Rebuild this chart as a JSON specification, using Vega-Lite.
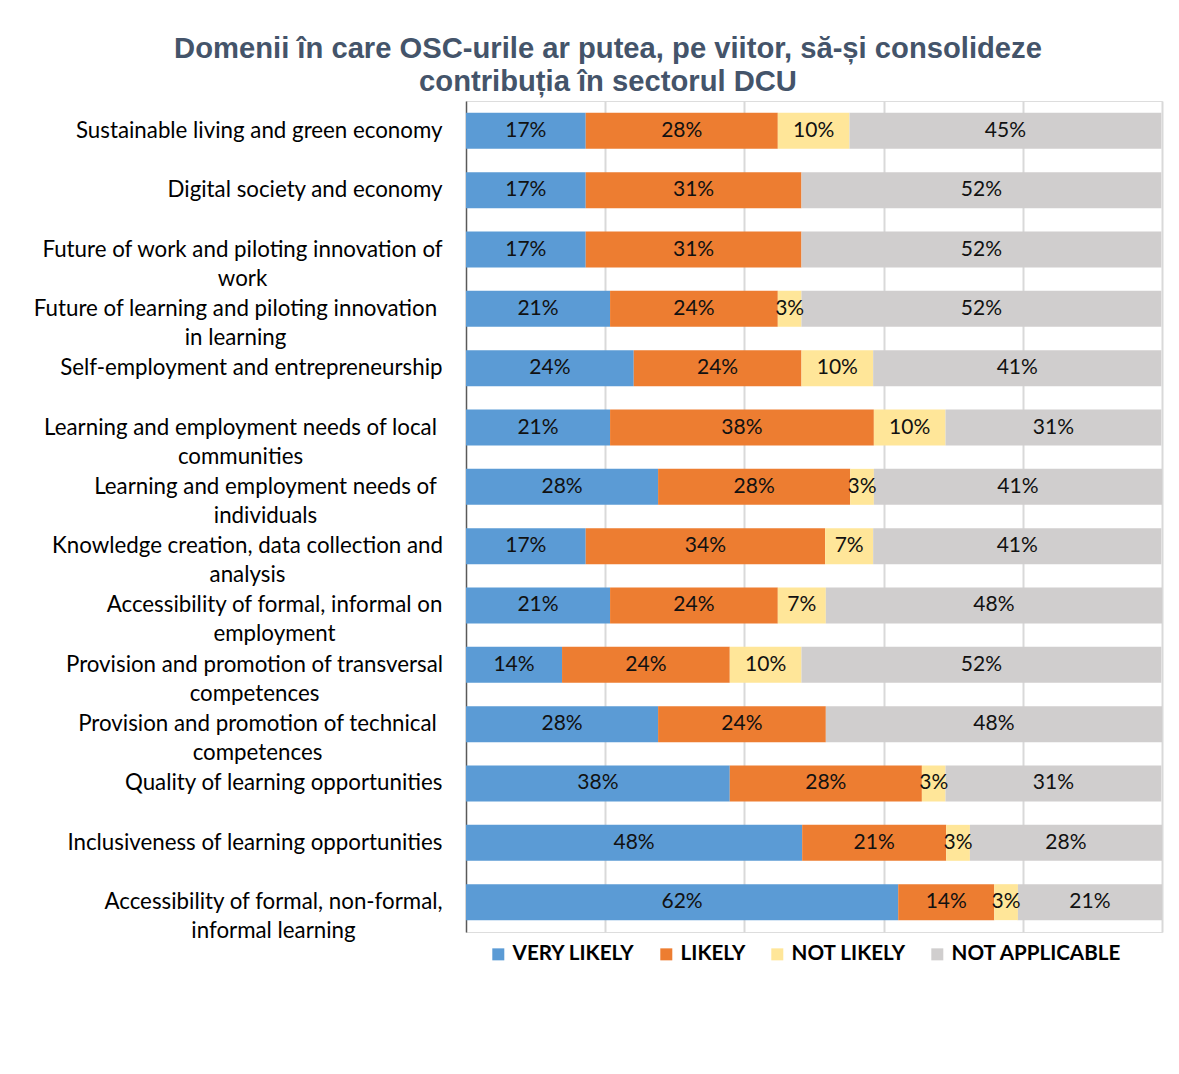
{
  "$schema": "https://vega.github.io/schema/vega-lite/v6.json",
  "autosize": "none",
  "width": 696,
  "height": 831,
  "padding": {"left": 466, "top": 101, "right": 17, "bottom": 142},
  "background": "white",
  "title": {
    "text": ["Domenii în care OSC-urile ar putea, pe viitor, să-și consolideze", "contribuția în sectorul DCU"],
    "font": "Liberation Sans",
    "fontSize": 29.2,
    "fontWeight": "bold",
    "color": "#44546A",
    "lineHeight": 33,
    "anchor": "middle",
    "dx": -206,
    "offset": 4
  },
  "data": {
    "values": [
      {"category": "Sustainable living and green economy", "series": "VERY LIKELY", "k": 1, "value": 0.172},
      {"category": "Sustainable living and green economy", "series": "LIKELY", "k": 2, "value": 0.276},
      {"category": "Sustainable living and green economy", "series": "NOT LIKELY", "k": 3, "value": 0.103},
      {"category": "Sustainable living and green economy", "series": "NOT APPLICABLE", "k": 4, "value": 0.448},
      {"category": "Digital society and economy", "series": "VERY LIKELY", "k": 1, "value": 0.172},
      {"category": "Digital society and economy", "series": "LIKELY", "k": 2, "value": 0.31},
      {"category": "Digital society and economy", "series": "NOT APPLICABLE", "k": 4, "value": 0.517},
      {"category": "Future of work and piloting innovation of work", "series": "VERY LIKELY", "k": 1, "value": 0.172},
      {"category": "Future of work and piloting innovation of work", "series": "LIKELY", "k": 2, "value": 0.31},
      {"category": "Future of work and piloting innovation of work", "series": "NOT APPLICABLE", "k": 4, "value": 0.517},
      {"category": "Future of learning and piloting innovation in learning", "series": "VERY LIKELY", "k": 1, "value": 0.207},
      {"category": "Future of learning and piloting innovation in learning", "series": "LIKELY", "k": 2, "value": 0.241},
      {"category": "Future of learning and piloting innovation in learning", "series": "NOT LIKELY", "k": 3, "value": 0.034},
      {"category": "Future of learning and piloting innovation in learning", "series": "NOT APPLICABLE", "k": 4, "value": 0.517},
      {"category": "Self-employment and entrepreneurship", "series": "VERY LIKELY", "k": 1, "value": 0.241},
      {"category": "Self-employment and entrepreneurship", "series": "LIKELY", "k": 2, "value": 0.241},
      {"category": "Self-employment and entrepreneurship", "series": "NOT LIKELY", "k": 3, "value": 0.103},
      {"category": "Self-employment and entrepreneurship", "series": "NOT APPLICABLE", "k": 4, "value": 0.414},
      {"category": "Learning and employment needs of local communities", "series": "VERY LIKELY", "k": 1, "value": 0.207},
      {"category": "Learning and employment needs of local communities", "series": "LIKELY", "k": 2, "value": 0.379},
      {"category": "Learning and employment needs of local communities", "series": "NOT LIKELY", "k": 3, "value": 0.103},
      {"category": "Learning and employment needs of local communities", "series": "NOT APPLICABLE", "k": 4, "value": 0.31},
      {"category": "Learning and employment needs of individuals", "series": "VERY LIKELY", "k": 1, "value": 0.276},
      {"category": "Learning and employment needs of individuals", "series": "LIKELY", "k": 2, "value": 0.276},
      {"category": "Learning and employment needs of individuals", "series": "NOT LIKELY", "k": 3, "value": 0.034},
      {"category": "Learning and employment needs of individuals", "series": "NOT APPLICABLE", "k": 4, "value": 0.414},
      {"category": "Knowledge creation, data collection and analysis", "series": "VERY LIKELY", "k": 1, "value": 0.172},
      {"category": "Knowledge creation, data collection and analysis", "series": "LIKELY", "k": 2, "value": 0.344},
      {"category": "Knowledge creation, data collection and analysis", "series": "NOT LIKELY", "k": 3, "value": 0.069},
      {"category": "Knowledge creation, data collection and analysis", "series": "NOT APPLICABLE", "k": 4, "value": 0.414},
      {"category": "Accessibility of formal, informal on employment", "series": "VERY LIKELY", "k": 1, "value": 0.207},
      {"category": "Accessibility of formal, informal on employment", "series": "LIKELY", "k": 2, "value": 0.241},
      {"category": "Accessibility of formal, informal on employment", "series": "NOT LIKELY", "k": 3, "value": 0.069},
      {"category": "Accessibility of formal, informal on employment", "series": "NOT APPLICABLE", "k": 4, "value": 0.483},
      {"category": "Provision and promotion of transversal competences", "series": "VERY LIKELY", "k": 1, "value": 0.138},
      {"category": "Provision and promotion of transversal competences", "series": "LIKELY", "k": 2, "value": 0.241},
      {"category": "Provision and promotion of transversal competences", "series": "NOT LIKELY", "k": 3, "value": 0.103},
      {"category": "Provision and promotion of transversal competences", "series": "NOT APPLICABLE", "k": 4, "value": 0.517},
      {"category": "Provision and promotion of technical competences", "series": "VERY LIKELY", "k": 1, "value": 0.276},
      {"category": "Provision and promotion of technical competences", "series": "LIKELY", "k": 2, "value": 0.241},
      {"category": "Provision and promotion of technical competences", "series": "NOT APPLICABLE", "k": 4, "value": 0.483},
      {"category": "Quality of learning opportunities", "series": "VERY LIKELY", "k": 1, "value": 0.379},
      {"category": "Quality of learning opportunities", "series": "LIKELY", "k": 2, "value": 0.276},
      {"category": "Quality of learning opportunities", "series": "NOT LIKELY", "k": 3, "value": 0.034},
      {"category": "Quality of learning opportunities", "series": "NOT APPLICABLE", "k": 4, "value": 0.31},
      {"category": "Inclusiveness of learning opportunities", "series": "VERY LIKELY", "k": 1, "value": 0.483},
      {"category": "Inclusiveness of learning opportunities", "series": "LIKELY", "k": 2, "value": 0.207},
      {"category": "Inclusiveness of learning opportunities", "series": "NOT LIKELY", "k": 3, "value": 0.034},
      {"category": "Inclusiveness of learning opportunities", "series": "NOT APPLICABLE", "k": 4, "value": 0.276},
      {"category": "Accessibility of formal, non-formal, informal learning", "series": "VERY LIKELY", "k": 1, "value": 0.621},
      {"category": "Accessibility of formal, non-formal, informal learning", "series": "LIKELY", "k": 2, "value": 0.138},
      {"category": "Accessibility of formal, non-formal, informal learning", "series": "NOT LIKELY", "k": 3, "value": 0.034},
      {"category": "Accessibility of formal, non-formal, informal learning", "series": "NOT APPLICABLE", "k": 4, "value": 0.207}
    ]
  },
  "transform": [
    {"stack": "value", "groupby": ["category"], "sort": [{"field": "k", "order": "ascending"}], "as": ["v0", "v1"]}
  ],
  "encoding": {
    "y": {
      "field": "category",
      "type": "nominal",
      "sort": null,
      "title": null,
      "scale": {"paddingInner": 0.394, "paddingOuter": 0.2},
      "axis": {
        "domainColor": "#595959",
        "domainWidth": 1.5,
        "ticks": false,
        "tickSize": 0,
        "grid": false,
        "labelFont": "Lato",
        "labelFontSize": 22.3,
        "labelColor": "#000000",
        "labelLineHeight": 29,
        "labelLimit": 0,
        "labelBaseline": "middle",
        "labelExpr": "split(replace(datum.label, regexp(' (work|in learning|communities|individuals|analysis|employment|competences|informal learning)$'), '|$1'), '|')",
        "labelAlign": {
          "condition": {"test": "test(regexp(' (work|in learning|communities|individuals|analysis|employment|competences|informal learning)$'), datum.value)", "value": "center"},
          "value": "right"
        },
        "labelPadding": {
          "condition": [
            {"test": "datum.value == 'Future of work and piloting innovation of work'", "value": 224},
            {"test": "datum.value == 'Future of learning and piloting innovation in learning'", "value": 231},
            {"test": "datum.value == 'Learning and employment needs of local communities'", "value": 226},
            {"test": "datum.value == 'Learning and employment needs of individuals'", "value": 201},
            {"test": "datum.value == 'Knowledge creation, data collection and analysis'", "value": 219},
            {"test": "datum.value == 'Accessibility of formal, informal on employment'", "value": 192},
            {"test": "datum.value == 'Provision and promotion of transversal competences'", "value": 212},
            {"test": "datum.value == 'Provision and promotion of technical competences'", "value": 209},
            {"test": "datum.value == 'Accessibility of formal, non-formal, informal learning'", "value": 193}
          ],
          "value": 24
        }
      }
    }
  },
  "layer": [
    {
      "mark": {"type": "bar"},
      "encoding": {
        "x": {
          "field": "v0",
          "type": "quantitative",
          "title": null,
          "scale": {"domain": [0, 1], "nice": false},
          "axis": {
            "values": [0.2, 0.4, 0.6, 0.8, 1],
            "labels": false,
            "ticks": false,
            "domain": false,
            "grid": true,
            "gridColor": "#D9D9D9",
            "gridWidth": 2
          }
        },
        "x2": {"field": "v1"},
        "color": {
          "field": "series",
          "type": "nominal",
          "sort": ["VERY LIKELY", "LIKELY", "NOT LIKELY", "NOT APPLICABLE"],
          "scale": {
            "domain": ["VERY LIKELY", "LIKELY", "NOT LIKELY", "NOT APPLICABLE"],
            "range": ["#5B9BD5", "#ED7D31", "#FFE699", "#D0CECE"]
          },
          "legend": {
            "title": null,
            "orient": "none",
            "direction": "horizontal",
            "legendX": 22,
            "legendY": 843,
            "symbolType": "square",
            "symbolSize": 144,
            "symbolStrokeWidth": 0,
            "labelFont": "Lato",
            "labelFontSize": 20.6,
            "labelFontWeight": "bold",
            "labelColor": "#000000",
            "labelOffset": 4,
            "columnPadding": 21,
            "labelLimit": 0
          }
        }
      }
    },
    {
      "transform": [
        {"fold": ["v0", "v1"], "as": ["edge", "pos"]},
        {"aggregate": [{"op": "mean", "field": "pos", "as": "mid"}, {"op": "max", "field": "value", "as": "pct"}], "groupby": ["category", "series"]}
      ],
      "mark": {"type": "text", "font": "Lato", "fontSize": 21, "color": "#111111", "baseline": "middle", "align": "center"},
      "encoding": {
        "x": {"field": "mid", "type": "quantitative"},
        "text": {"field": "pct", "type": "quantitative", "format": ".0%"}
      }
    }
  ]
}
